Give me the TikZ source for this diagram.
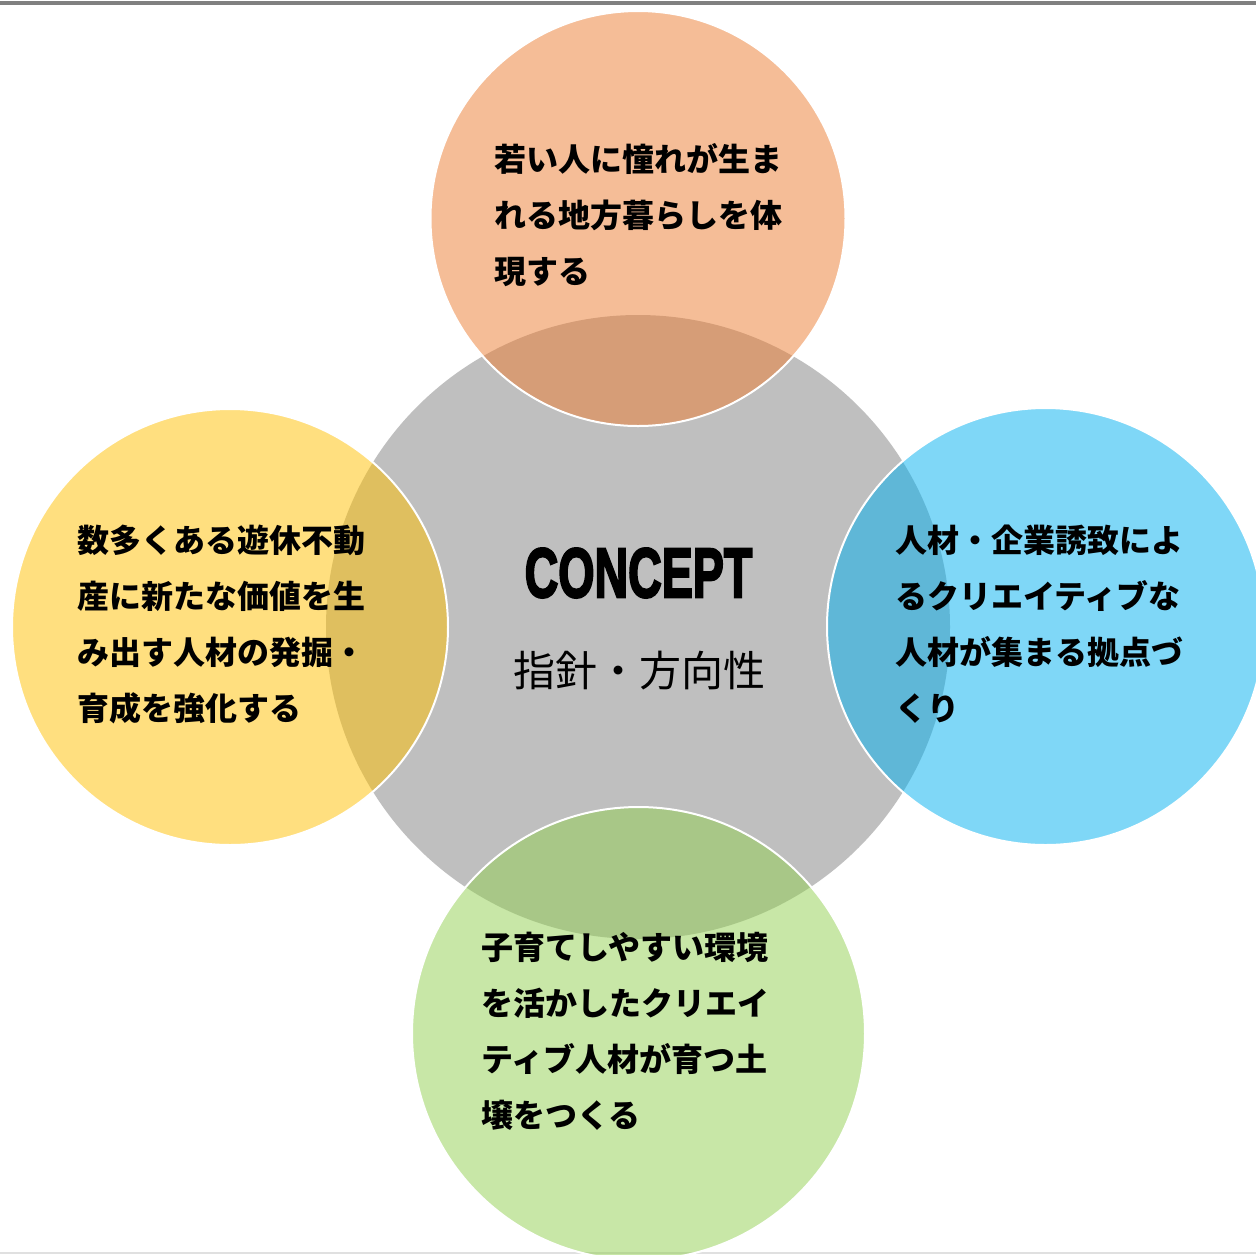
\documentclass[tikz,border=0pt]{standalone}
\usepackage{fontspec}
\newfontfamily\jp{Noto Sans CJK JP}
\newfontfamily\conc{Liberation Sans}[BoldFeatures={FakeBold=3.5}]
\definecolor{cgray}{HTML}{BFBFBF}
\definecolor{corange}{HTML}{ED7D31}
\definecolor{cgold}{HTML}{FFC000}
\definecolor{cblue}{HTML}{00B0F0}
\definecolor{cgreen}{HTML}{92D050}
\definecolor{topline}{HTML}{808080}
\tikzset{
  bubble/.style={circle, inner sep=0pt, fill opacity=0.5, draw=white, draw opacity=1, line width=2pt},
  label/.style={inner sep=0pt, anchor=west, align=left, text=black, font=\jp\bfseries\fontsize{32}{56}\selectfont},
}
\begin{document}
\begin{tikzpicture}[x=1pt,y=-1pt]
\useasboundingbox (0,0) rectangle (1256,1254);
\clip (0,0) rectangle (1256,1254);
\fill[white] (0,0) rectangle (1256,1254);
\draw[topline, line width=4pt] (0,3) -- (1256,3);
\draw[black!12, line width=1.5pt] (0,1253) -- (1256,1253);
% central circle
\node[circle, inner sep=0pt, fill=cgray, minimum size=624pt] (center) at (638,627) {};
% outer circles
\node[bubble, fill=corange, minimum size=415pt] (top) at (638,218.5) {};
\node[bubble, fill=cgold, minimum size=436pt] (left) at (230,627) {};
\node[bubble, fill=cblue, minimum size=437pt] (right) at (1045.5,626.5) {};
\node[bubble, fill=cgreen, minimum size=453pt] (bottom) at (638.5,1033.5) {};
% texts
\node[inner sep=0pt] (concept) at (638.5,573) {\scalebox{0.665}[1]{\conc\bfseries\fontsize{70}{70}\selectfont CONCEPT}};
\node[inner sep=0pt, text=black, font=\jp\fontsize{42}{42}\selectfont] (sub) at (639,671) {指針・方向性};
\node[label] (ttop) at (494,215) {若い人に憧れが生ま\\れる地方暮らしを体\\現する};
\node[label] (tleft) at (77,624) {数多くある遊休不動\\産に新たな価値を生\\み出す人材の発掘・\\育成を強化する};
\node[label] (tright) at (895,624) {人材・企業誘致によ\\るクリエイティブな\\人材が集まる拠点づ\\くり};
\node[label] (tbottom) at (481,1031.5) {子育てしやすい環境\\を活かしたクリエイ\\ティブ人材が育つ土\\壌をつくる};
\end{tikzpicture}
\end{document}
